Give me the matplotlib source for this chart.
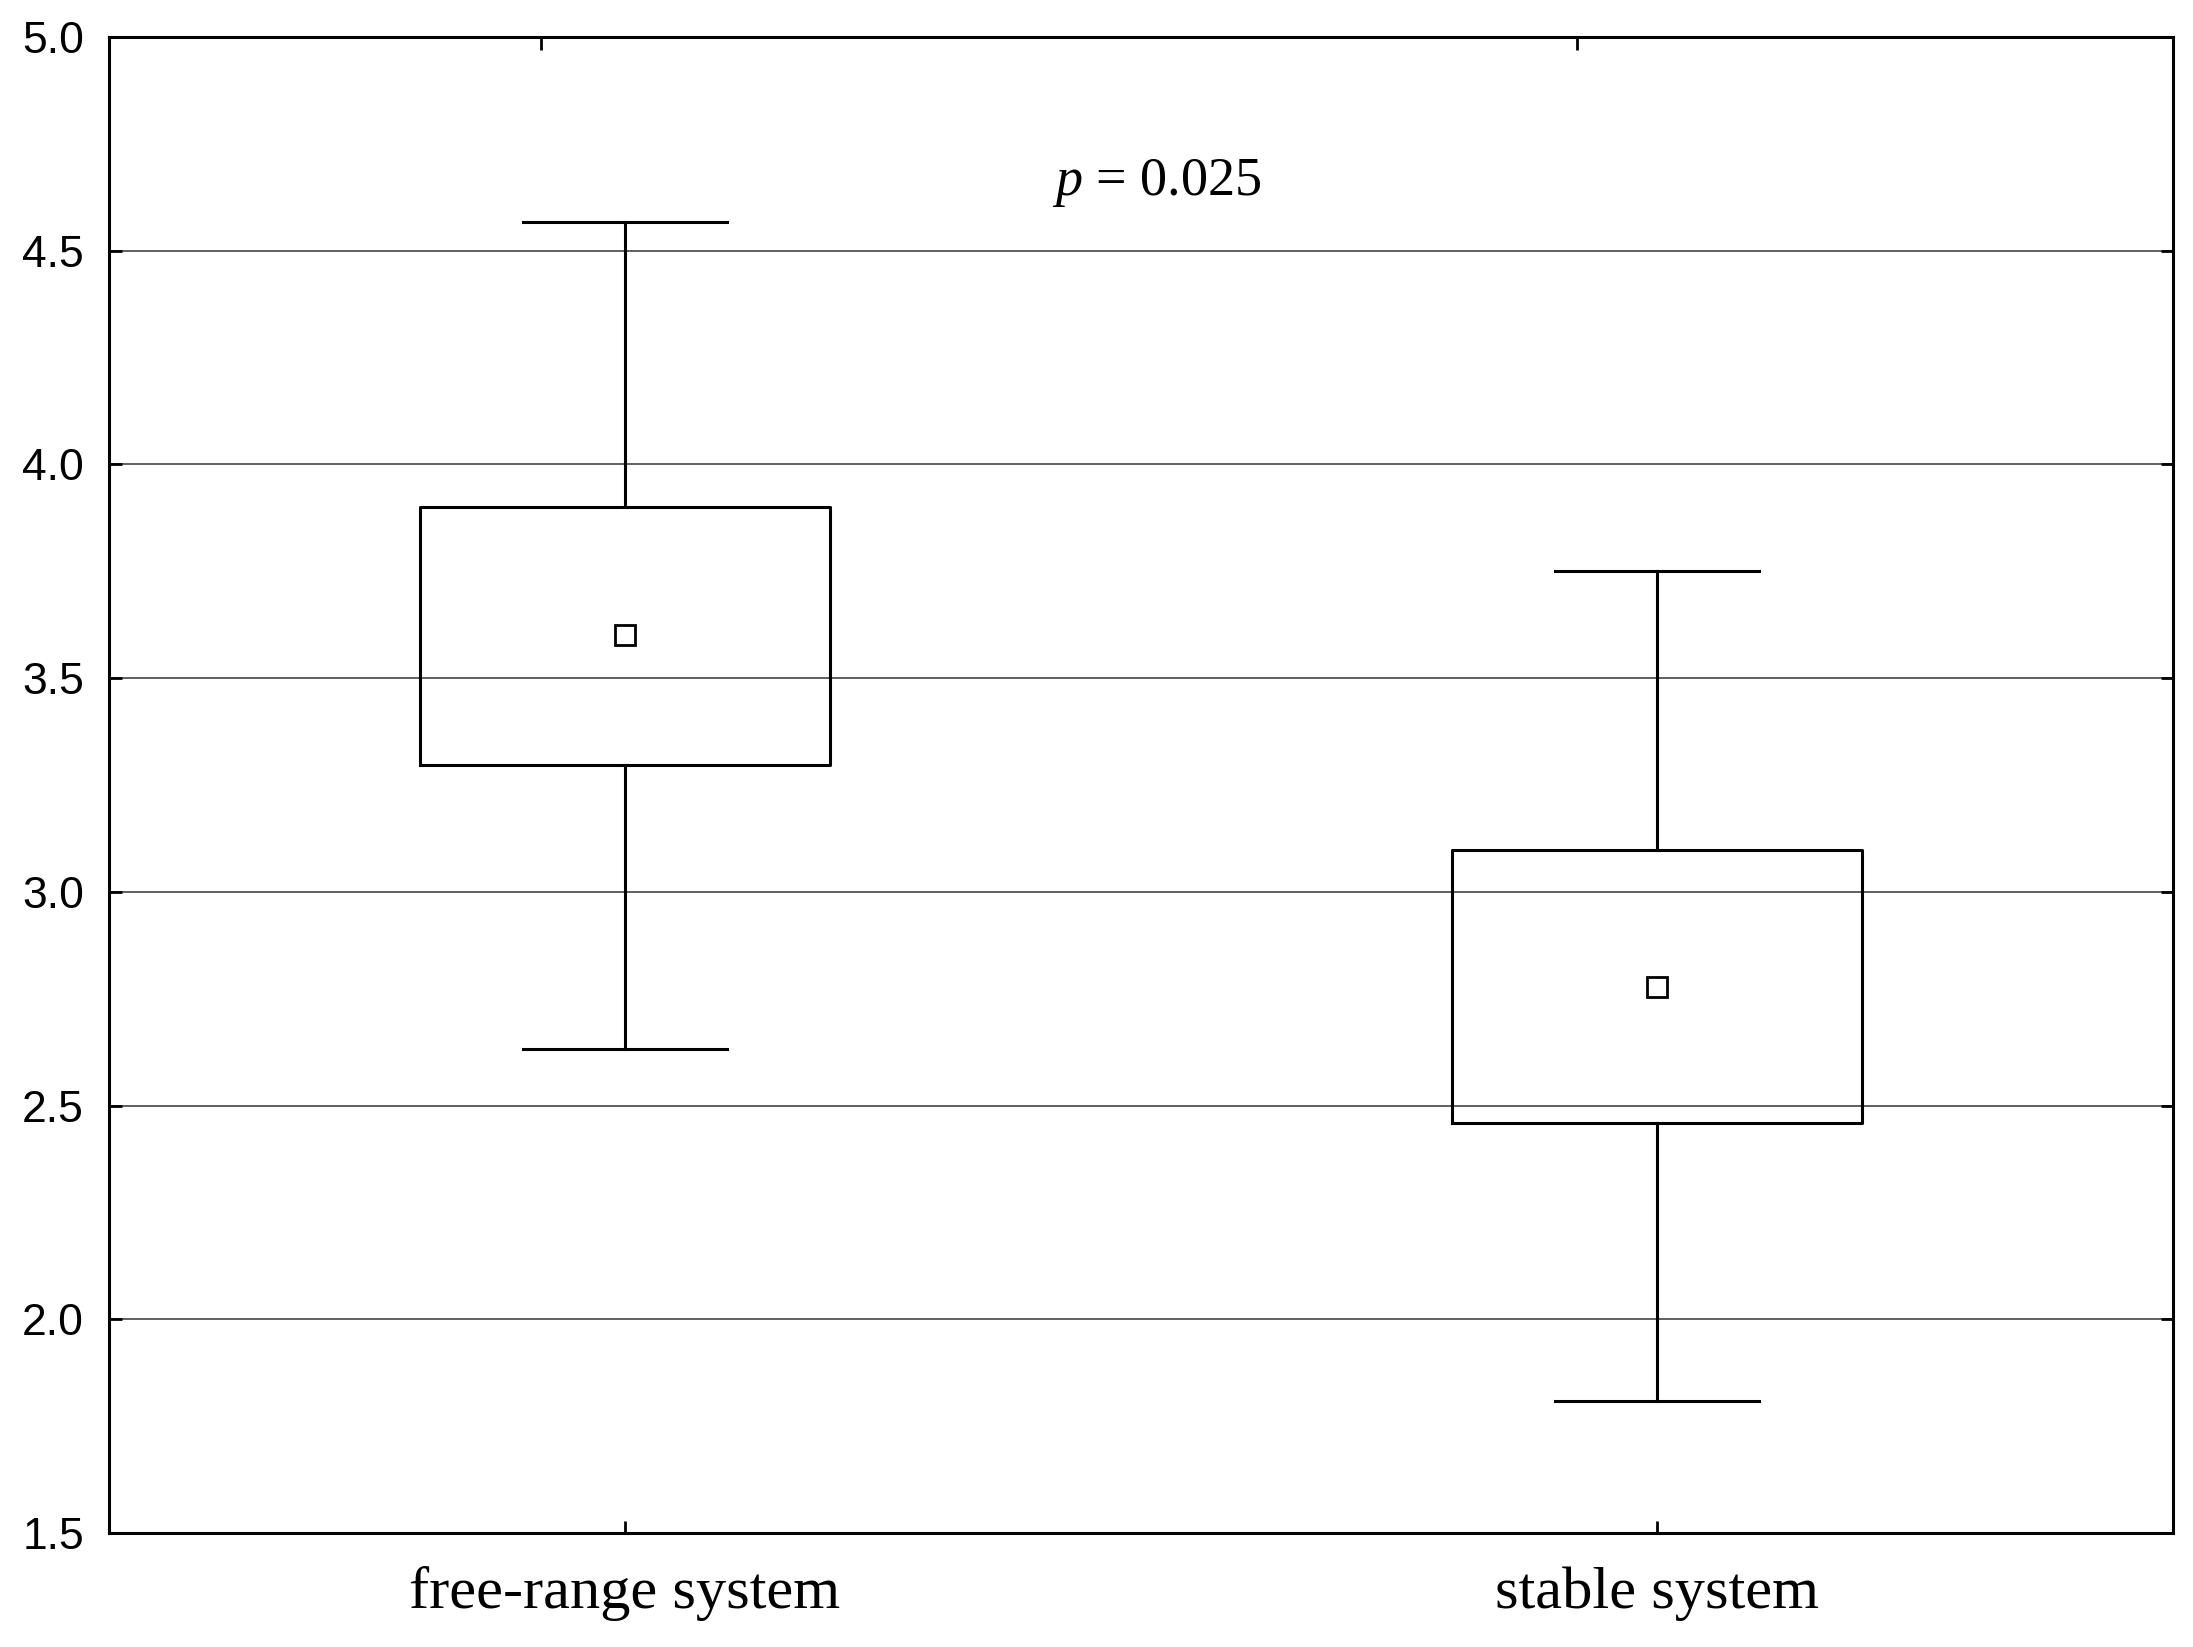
import matplotlib
matplotlib.use('Agg')
import matplotlib.pyplot as plt

# 数据
groups = ['free-range system', 'stable system']
whisker_low = [2.633, 1.808]
box_low = [3.298, 2.46]
means = [3.60, 2.777]
box_high = [3.90, 3.098]
whisker_high = [4.568, 3.75]
y_ticks = [1.5, 2.0, 2.5, 3.0, 3.5, 4.0, 4.5, 5.0]
p_text = '$p$ = 0.025'

plt.rcParams['mathtext.fontset'] = 'custom'
plt.rcParams['mathtext.rm'] = 'Liberation Serif'
plt.rcParams['mathtext.it'] = 'Liberation Serif:italic'

fig = plt.figure(figsize=(21.93, 16.47), dpi=100)
ax = fig.add_axes([0.0497, 0.0692, 0.9412, 0.9083])

stats = []
for i in range(len(groups)):
    stats.append({'whislo': whisker_low[i], 'q1': box_low[i], 'med': means[i],
                  'q3': box_high[i], 'whishi': whisker_high[i], 'mean': means[i],
                  'label': groups[i]})

ax.bxp(stats, positions=[0, 1], widths=0.397, capwidths=0.197,
       showmeans=True, showfliers=False, patch_artist=False,
       boxprops=dict(color='black', linewidth=2.2),
       whiskerprops=dict(color='black', linewidth=2.2),
       capprops=dict(color='black', linewidth=2.2),
       medianprops=dict(linewidth=0),
       meanprops=dict(marker='s', markersize=15, markerfacecolor='white',
                      markeredgecolor='black', markeredgewidth=2.0))

ax.set_xlim(-0.5, 1.5)
ax.set_ylim(1.5, 5.0)
ax.set_yticks(y_ticks)
ax.set_yticklabels(['%.1f' % v for v in y_ticks], fontfamily='Liberation Sans', fontsize=32)
ax.set_xticks([0, 1])
ax.set_xticklabels(groups, fontfamily='Liberation Serif', fontsize=43.5)
ax.yaxis.grid(True, color='#444444', linewidth=1.2)
ax.set_axisbelow(True)
ax.tick_params(axis='y', direction='in', length=9, width=2, right=True, pad=18)
ax.tick_params(axis='x', direction='in', length=9, width=2, pad=24)
for s in ax.spines.values():
    s.set_linewidth(2.2)

# 上方刻度位置与下方不同
top = ax.secondary_xaxis('top')
top.set_xticks([-0.081, 0.922])
top.set_xticklabels(['', ''])
top.tick_params(direction='in', length=9, width=2)

ax.text(0.4138, 4.6297, p_text, ha='left', va='baseline',
        fontfamily='Liberation Serif', fontsize=39)

fig.savefig('out.png', dpi=100)
